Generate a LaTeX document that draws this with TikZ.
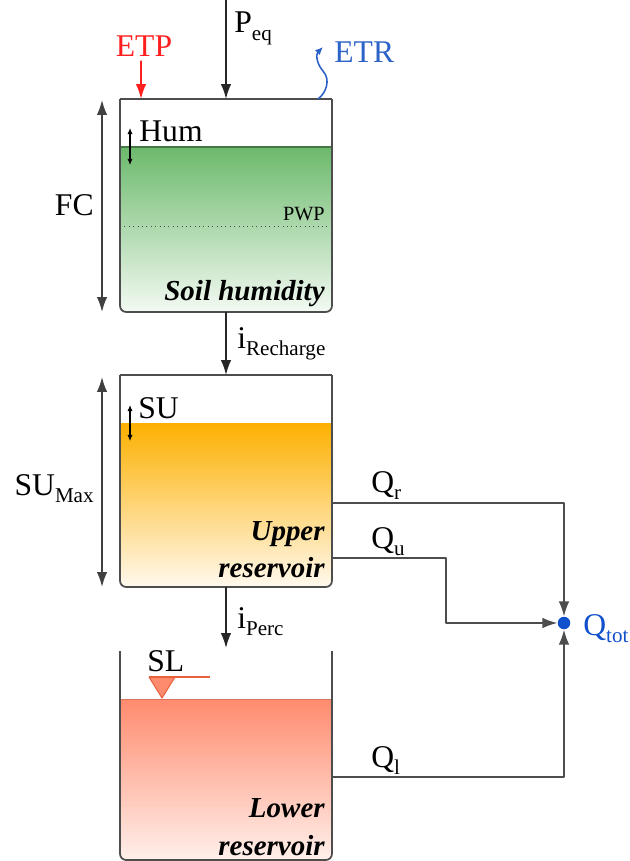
\documentclass[tikz,border=0pt]{standalone}
\usepackage{fontspec}
\setmainfont{Liberation Serif}
\usepackage{tikz}
\usetikzlibrary{arrows.meta,calc,positioning}
\definecolor{wallgray}{HTML}{4D4D4D}
\definecolor{etpred}{HTML}{FF1F1F}
\definecolor{etrblue}{HTML}{2D62C8}
\definecolor{qblue}{HTML}{1150CC}
\definecolor{soiltop}{HTML}{6CB96C}
\definecolor{soilbot}{HTML}{F3FAF3}
\definecolor{uppertop}{HTML}{FDB000}
\definecolor{upperbot}{HTML}{FFF9EE}
\definecolor{lowertop}{HTML}{FF8B6E}
\definecolor{lowerbot}{HTML}{FFF0EB}
\definecolor{slline}{HTML}{E8623E}
\tikzset{
  every picture/.style={line join=round, >={Latex[length=8.5pt,width=6pt]}},
  lbl/.style={font=\fontsize{18}{21}\selectfont, inner sep=0pt},
  small/.style={font=\fontsize{11.5}{13}\selectfont, inner sep=0pt},
  tag/.style={font=\fontsize{16.5}{19}\selectfont\bfseries\itshape, inner sep=0pt},
  tank/.style={minimum width=4.24cm, inner sep=0pt, outer sep=0pt},
  wall/.style={draw=wallgray, line width=1pt, rounded corners=3.5pt},
  flow/.style={->, draw=black!85, line width=1pt},
  qline/.style={->, draw=wallgray, line width=1pt},
  span/.style={<->, draw=black!75, line width=1pt},
  level/.style={{Latex[length=3.5pt,width=3pt]}-{Latex[length=3.5pt,width=3pt]}, line width=0.6pt},
}
\newcommand{\lowsub}[1]{\raisebox{-0.55ex}{\fontsize{12}{13}\selectfont #1}}

\begin{document}
\begin{tikzpicture}[x=0.02cm,y=-0.02cm]
\useasboundingbox (0,0) rectangle (629,861);
% tanks
\node[tank, minimum height=4.26cm] (soil) at (226,205.5) {};
\node[tank, minimum height=4.24cm] (upper) at (226,481) {};
\node[tank, minimum height=4.18cm] (lower) at (226,755.5) {};

% soil humidity tank
\coordinate (soilw) at ($(soil.north west)+(0,48)$);
\coordinate (soile) at ($(soil.north east)+(0,48)$);
\shade[top color=soiltop, middle color=soiltop!88!soilbot, bottom color=soilbot, rounded corners=3.5pt]
  (soilw) -- (soil.south west) -- (soil.south east) -- (soile);
\draw[soiltop!65!black, line width=0.7pt] (soilw) -- (soile);
\draw[dotted, black!70, line width=0.5pt] ($(soil.north west)+(0,127)$) -- ($(soil.north east)+(0,127)$);
\draw[wall] (soil.north west) -- (soil.south west) -- (soil.south east) -- (soil.north east);
\draw[wall] (soil.north west) -- (soil.north east);

% upper reservoir
\coordinate (upperw) at ($(upper.north west)+(0,48)$);
\coordinate (uppere) at ($(upper.north east)+(0,48)$);
\shade[top color=uppertop, middle color=uppertop!72!upperbot, bottom color=upperbot, rounded corners=3.5pt]
  (upperw) -- (upper.south west) -- (upper.south east) -- (uppere);
\draw[wall] (upper.north west) -- (upper.south west) -- (upper.south east) -- (upper.north east);
\draw[wall] (upper.north west) -- (upper.north east);

% lower reservoir
\coordinate (lowerw) at ($(lower.north west)+(0,48)$);
\coordinate (lowere) at ($(lower.north east)+(0,48)$);
\shade[top color=lowertop, middle color=lowertop!72!lowerbot, bottom color=lowerbot, rounded corners=3.5pt]
  (lowerw) -- (lower.south west) -- (lower.south east) -- (lowere);
\draw[lowertop!85!black, line width=0.6pt] (lowerw) -- (lowere);
\draw[wall] (lower.north west) -- (lower.south west) -- (lower.south east) -- (lower.north east);

% water table mark
\coordinate (sltip) at ($(lowerw)+(42,-1)$);
\fill[lowertop, draw=slline, line width=0.6pt] ($(sltip)+(-13,-21)$) -- ($(sltip)+(13,-21)$) -- (sltip) -- cycle;
\draw[slline, line width=0.9pt] ($(sltip)+(-13,-21)$) -- ($(sltip)+(48,-21)$);
\node[lbl, anchor=base west] (sl) at (147,671) {SL};

% levels
\draw[level] ($(soil.north west)+(10,29)$) -- ($(soil.north west)+(10,66)$);
\node[lbl, anchor=base west] (hum) at (139,142) {Hum};
\draw[level] ($(upper.north west)+(10,30)$) -- ($(upper.north west)+(10,66)$);
\node[lbl, anchor=base west] (su) at (138,418) {SU};
\node[small, anchor=base east] (pwp) at (325,221) {PWP};

% capacities
\draw[span] ($(soil.north west)+(-18,1)$) -- ($(soil.south west)+(-18,0)$);
\node[lbl, anchor=base east] (fc) at (94,216) {FC};
\draw[span] ($(upper.north west)+(-18,2)$) -- ($(upper.south west)+(-18,0)$);
\node[lbl, anchor=base east] (sumax) at (94,495) {SU\lowsub{Max}};

% inputs
\coordinate (peqtop) at (226,0);
\draw[flow] (peqtop) -- (soil.north);
\node[lbl, anchor=base west] (peq) at (234,33) {P\lowsub{eq}};
\node[lbl, text=etpred] (etp) at (144,46) {ETP};
\draw[flow, draw=etpred] ($(etp.south)+(-3,4)$) -- ($(soil.north west)+(21,0)$);
\coordinate (etrfoot) at ($(soil.north east)+(-14,0)$);
\draw[->, draw=etrblue, line width=0.9pt, >={Latex[length=4.5pt,width=4pt]}]
  (etrfoot) .. controls (326,93) and (331,80) .. (323,71) .. controls (316,63) and (316,54) .. (323,47);
\node[lbl, text=etrblue, anchor=base west] (etr) at (334,63) {ETR};

% transfers
\draw[flow] (soil.south) -- (upper.north);
\node[lbl, anchor=base west] (irech) at (237,348) {i\lowsub{Recharge}};
\coordinate (percend) at ($(lower.north)+(0,-3)$);
\draw[flow] (upper.south) -- (percend);
\node[lbl, anchor=base west] (iperc) at (237,628) {i\lowsub{Perc}};

% outflows
\node[circle, fill=qblue, inner sep=0pt, minimum size=0.25cm] (qtot) at (564,623) {};
\node[lbl, text=qblue, anchor=base west] (qtotlbl) at (583,635) {Q\lowsub{tot}};
\coordinate (qr) at ($(upper.north east)+(0,128)$);
\coordinate (qu) at ($(upper.north east)+(0,183)$);
\coordinate (qubend) at (446,558);
\coordinate (ql) at ($(lower.north east)+(0,126)$);
\draw[qline] (qr) -| (qtot);
\draw[qline] (qu) -- (qubend) |- (qtot);
\draw[qline] (ql) -| (qtot);
\node[lbl, anchor=base west] (qrlbl) at (371,492) {Q\lowsub{r}};
\node[lbl, anchor=base west] (qulbl) at (371,548) {Q\lowsub{u}};
\node[lbl, anchor=base west] (qllbl) at (371,767) {Q\lowsub{l}};

% names
\node[tag, anchor=base east] (soiltag) at (325,300) {Soil humidity};
\node[tag, anchor=base east] (uppertag1) at (325,540) {Upper};
\node[tag, anchor=base east] (uppertag2) at (325,577) {reservoir};
\node[tag, anchor=base east] (lowertag1) at (325,817) {Lower};
\node[tag, anchor=base east] (lowertag2) at (325,855) {reservoir};
\end{tikzpicture}
\end{document}
